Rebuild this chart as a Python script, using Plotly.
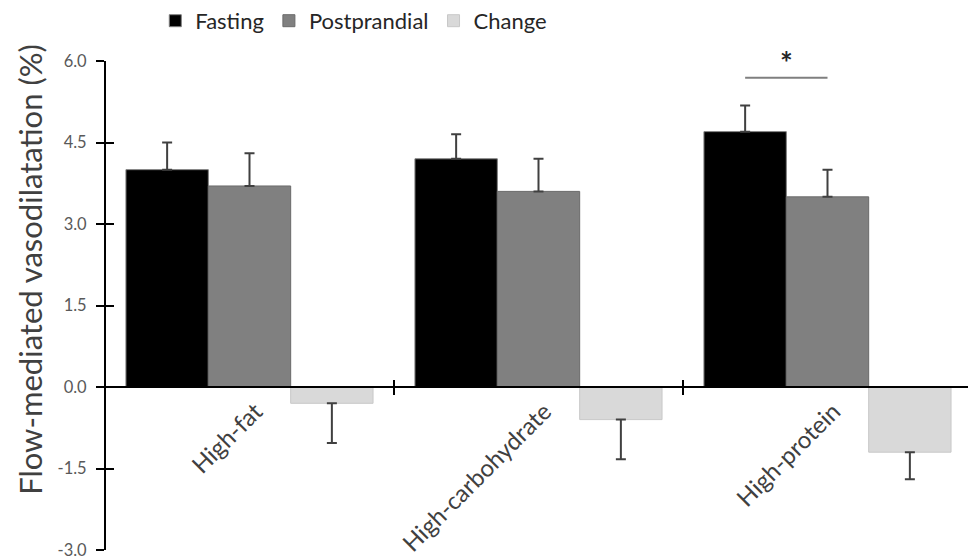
import plotly.graph_objects as go

categories = ["High-fat", "High-carbohydrate", "High-protein"]
fasting = [4.0, 4.2, 4.7]
fasting_err = [0.5, 0.45, 0.48]
postprandial = [3.7, 3.6, 3.5]
postprandial_err = [0.6, 0.6, 0.5]
change = [-0.3, -0.6, -1.2]
change_err = [0.73, 0.73, 0.5]
y_ticks = [-3.0, -1.5, 0.0, 1.5, 3.0, 4.5, 6.0]
y_tick_labels = ["-3.0", "-1.5", "0.0", "1.5", "3.0", "4.5", "6.0"]
sig_pair = (2, 5.69)  # category index, bracket level

x_pos = list(range(len(categories)))
boundaries = [i - 0.5 for i in range(len(categories) + 1)]
bargap = 0.145
bar_w = (1 - bargap) / 3

FONT = "Lato"
ERR_COL = "#404040"

def err(vals, errs):
    up = [e if v >= 0 else 0 for v, e in zip(vals, errs)]
    dn = [e if v < 0 else 0 for v, e in zip(vals, errs)]
    return dict(type="data", symmetric=False, array=up, arrayminus=dn,
                color=ERR_COL, thickness=2, width=5)

fig = go.Figure()
fig.add_trace(go.Bar(name="Fasting", x=x_pos, y=fasting, error_y=err(fasting, fasting_err),
                     marker=dict(color="#000000", line=dict(color="#7f7f7f", width=1))))
fig.add_trace(go.Bar(name="Postprandial", x=x_pos, y=postprandial, error_y=err(postprandial, postprandial_err),
                     marker=dict(color="#808080", line=dict(color="#6a6a6a", width=1))))
fig.add_trace(go.Bar(name="Change", x=x_pos, y=change, error_y=err(change, change_err),
                     marker=dict(color="#d9d9d9", line=dict(color="#c8c8c8", width=1))))

pos0 = 3 / 9  # y=0 in normalized plot coordinates

fig.update_layout(
    width=976, height=558,
    margin=dict(l=97, r=12, t=53, b=16, autoexpand=False),
    paper_bgcolor="white", plot_bgcolor="white",
    barmode="group", bargap=bargap, bargroupgap=0,
    font=dict(family=FONT, color="#404040"),
    showlegend=True,
    legend=dict(orientation="h", x=0.058, xanchor="left", y=1.082, yanchor="middle",
                font=dict(size=22, color="#262626"), bgcolor="rgba(0,0,0,0)",
                traceorder="normal"),
    xaxis=dict(range=[-0.5, len(categories) - 0.5], tickvals=x_pos, ticktext=categories,
               tickangle=-45, ticks="", showline=True, linecolor="#000000", linewidth=2,
               showgrid=False, zeroline=False, anchor="free", position=pos0,
               ticklabelshift=6,
               tickfont=dict(size=24, color="#404040", family=FONT)),
    xaxis2=dict(range=[-0.5, len(categories) - 0.5], tickvals=boundaries, ticks="outside",
                ticklen=7, tickwidth=2, tickcolor="#000000", showticklabels=False,
                showline=False, showgrid=False, zeroline=False, overlaying="x",
                anchor="free", position=pos0),
    xaxis3=dict(range=[-0.5, len(categories) - 0.5], tickvals=boundaries, ticks="inside",
                ticklen=7, tickwidth=2, tickcolor="#000000", showticklabels=False,
                showline=False, showgrid=False, zeroline=False, overlaying="x",
                anchor="free", position=pos0),
    yaxis=dict(range=[-3, 6], tickvals=y_ticks, ticktext=y_tick_labels, ticks="outside",
               ticklen=8, tickwidth=2, tickcolor="#000000", showline=True,
               linecolor="#000000", linewidth=2, showgrid=False, zeroline=False,
               anchor="free", position=0, ticklabelstandoff=6,
               tickfont=dict(size=16.5, color="#595959", family=FONT)),
    yaxis2=dict(range=[-3, 6], tickvals=y_ticks, ticks="inside", ticklen=8, tickwidth=2,
                tickcolor="#000000", showticklabels=False, showline=False, showgrid=False,
                zeroline=False, overlaying="y", anchor="free", position=0),
)

# invisible helper traces so overlay axes render
for ax in ("x2", "x3"):
    fig.add_trace(go.Scatter(x=[x_pos[0]], y=[0], xaxis=ax, yaxis="y", mode="markers",
                             marker=dict(opacity=0), showlegend=False, hoverinfo="skip"))
fig.add_trace(go.Scatter(x=[x_pos[0]], y=[0], xaxis="x", yaxis="y2", mode="markers",
                         marker=dict(opacity=0), showlegend=False, hoverinfo="skip"))

# significance bracket between Fasting and Postprandial of High-protein
ci, lvl = sig_pair
x0 = ci - bar_w
x1 = ci
fig.add_shape(type="line", xref="x", yref="y", x0=x0, x1=x1, y0=lvl, y1=lvl,
              line=dict(color="#7f7f7f", width=2))
fig.add_annotation(x=(x0 + x1) / 2, y=lvl, xref="x", yref="y", text="<b>*</b>", showarrow=False,
                   yanchor="bottom", yshift=-4, font=dict(size=30, color="#262626", family=FONT))

fig.add_annotation(text="Flow-mediated vasodilatation (%)", textangle=-90, xref="paper",
                   yref="paper", x=-0.0865, y=0.573, xanchor="center", yanchor="middle",
                   showarrow=False, font=dict(size=31, color="#404040", family=FONT))

fig.write_html("out.html")
